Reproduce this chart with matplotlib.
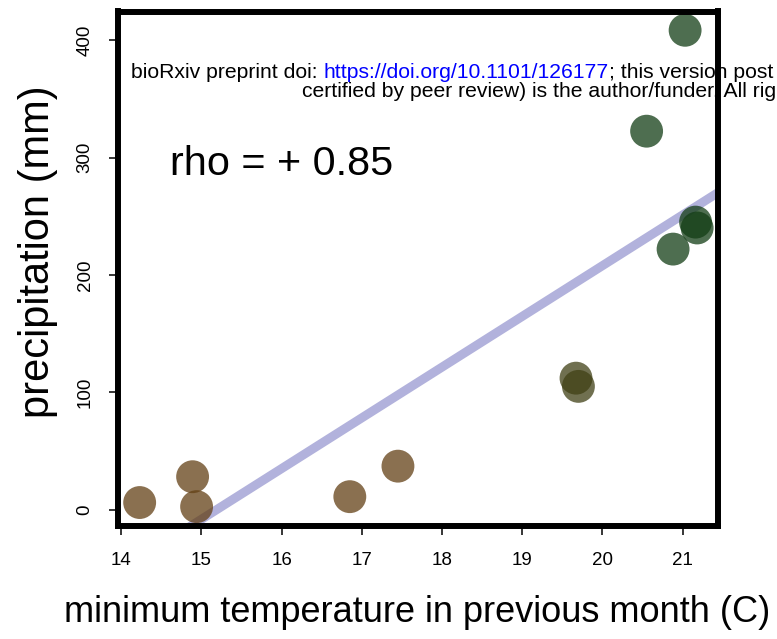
import numpy as np
import matplotlib.pyplot as plt

plt.rcParams['font.family'] = ['Liberation Sans', 'DejaVu Sans']

# min temperature of the previous month (C) and monthly precipitation (mm)
min_temp = [14.23, 14.89, 14.94, 16.85, 17.45, 19.67, 19.70, 20.55, 20.88, 21.03, 21.16, 21.18]
precip = [6, 28, 2.5, 11, 37, 112, 105, 322.5, 222, 408.5, 245, 240]
# point colours go from dry (brown) to wet (green)
point_cols = ['#634015'] * 5 + ['#404015'] * 2 + ['#133d15'] * 5
rho = 0.85

x_ticks = [14, 15, 16, 17, 18, 19, 20, 21]
y_ticks = [0, 100, 200, 300, 400]

fig = plt.figure(figsize=(7.77, 6.39), dpi=100)
ax = fig.add_axes([118 / 777, 1 - 526 / 639, 600 / 777, (526 - 11.5) / 639])

# least squares line across the whole panel
m, b = np.polyfit(min_temp, precip, 1)
xl = np.array([13.96, 21.44])
ax.plot(xl, m * xl + b, '-', color='darkblue', alpha=0.3, linewidth=6.5,
        solid_capstyle='butt', zorder=1)
ax.scatter(min_temp, precip, s=560, c=point_cols, alpha=0.75, linewidths=0, zorder=2)

ax.set_xlim(13.96, 21.44)
ax.set_ylim(-14, 424.5)
ax.set_xticks(x_ticks)
ax.set_yticks(y_ticks)
for s in ax.spines.values():
    s.set_linewidth(4.3)
    s.set_color('black')
ax.tick_params(axis='both', length=6.5, width=1.1, labelsize=13.5, color='black')
ax.tick_params(axis='x', pad=12)
ax.tick_params(axis='y', pad=11)
for lab in ax.get_yticklabels():
    lab.set_rotation(90)
    lab.set_va('center')

fig.text(170 / 777, 1 - 175 / 639, 'rho = + %.2f' % rho, fontsize=29.8, ha='left', va='baseline')

fig.text(38 / 777, 1 - 252 / 639, 'precipitation (mm)', fontsize=30, rotation=90,
         ha='center', va='center')
fig.text(417 / 777, 1 - 622 / 639, 'minimum temperature in previous month (C)', fontsize=26,
         ha='center', va='baseline')

# preprint stamp along the top (runs off the right side of the page)
r = fig.canvas.get_renderer()
t1 = fig.text(131 / 777, 1 - 78 / 639, 'bioRxiv preprint doi: ', fontsize=15.2, va='baseline')
bb = t1.get_window_extent(r)
t2 = fig.text(bb.x1 / 777, 1 - 78 / 639, 'https://doi.org/10.1101/126177', fontsize=15.2,
              color='#0000ff', va='baseline')
bb = t2.get_window_extent(r)
fig.text(bb.x1 / 777, 1 - 78 / 639, '; this version post', fontsize=15.2, va='baseline')
fig.text(302 / 777, 1 - 97 / 639, 'certified by peer review) is the author/funder. All rig',
         fontsize=15.2, va='baseline')

fig.savefig('out.png', dpi=100)
